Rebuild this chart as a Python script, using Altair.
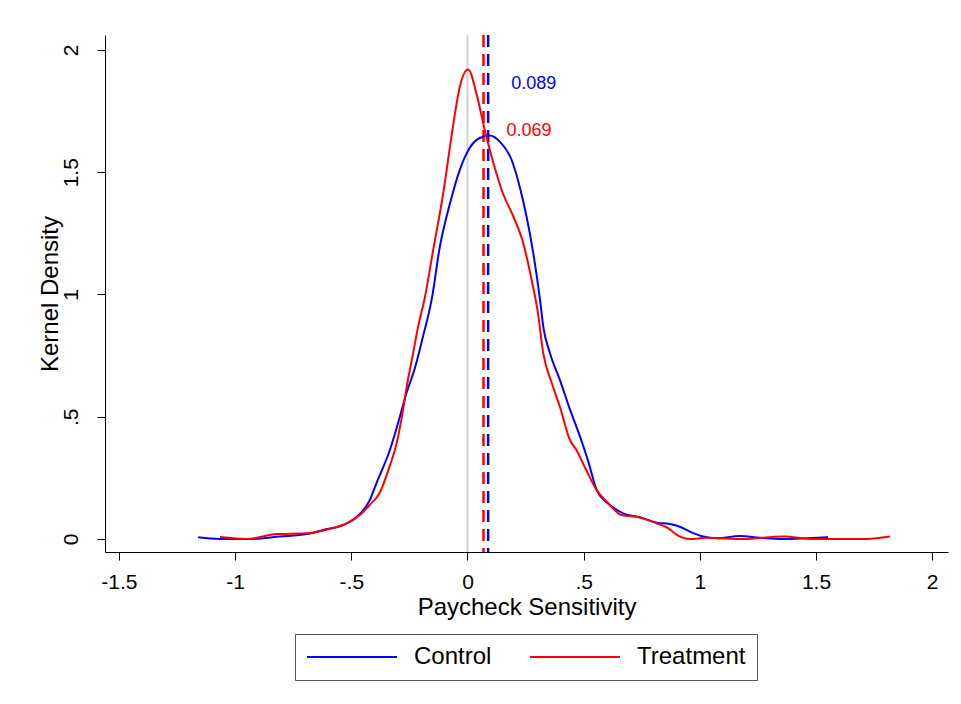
import altair as alt
import pandas as pd

# ---- data ----
ctrl_x = [-1.159, -1.065, -0.936, -0.807, -0.692, -0.621, -0.535, -0.477, -0.42, -0.391,
          -0.334, -0.291, -0.268, -0.226, -0.191, -0.154, -0.119, -0.076, -0.033, 0.01,
          0.053, 0.096, 0.139, 0.19, 0.225, 0.254, 0.283, 0.312, 0.326, 0.355, 0.398,
          0.441, 0.484, 0.519, 0.556, 0.599, 0.67, 0.742, 0.814, 0.871, 0.914, 0.957,
          1.014, 1.072, 1.172, 1.258, 1.358, 1.459, 1.552]
ctrl_y = [0.007, 0.0, 0.0, 0.01, 0.02, 0.037, 0.057, 0.09, 0.16, 0.23,
          0.364, 0.50, 0.58, 0.70, 0.83, 0.98, 1.195, 1.37, 1.51, 1.60,
          1.64, 1.65, 1.625, 1.55, 1.44, 1.32, 1.17, 0.98, 0.87, 0.76, 0.65,
          0.53, 0.42, 0.32, 0.20, 0.15, 0.105, 0.089, 0.067, 0.061, 0.05, 0.03,
          0.01, 0.003, 0.012, 0.005, 0.0, 0.003, 0.007]

treat_x = [-1.065, -0.95, -0.821, -0.692, -0.579, -0.52, -0.463, -0.42, -0.377, -0.334,
           -0.305, -0.277, -0.262, -0.234, -0.212, -0.183, -0.148, -0.105, -0.062, -0.033,
           0.003, 0.039, 0.075, 0.111, 0.154, 0.197, 0.24, 0.276, 0.304, 0.326, 0.362,
           0.398, 0.441, 0.469, 0.512, 0.556, 0.599, 0.663, 0.742, 0.814, 0.857, 0.914,
           0.957, 1.029, 1.186, 1.358, 1.488, 1.717, 1.818]
treat_y = [0.008, 0.0, 0.02, 0.023, 0.045, 0.064, 0.098, 0.14, 0.19, 0.30,
           0.39, 0.53, 0.62, 0.76, 0.87, 0.99, 1.18, 1.41, 1.69, 1.85,
           1.92, 1.82, 1.67, 1.54, 1.41, 1.32, 1.21, 1.06, 0.92, 0.76, 0.64,
           0.54, 0.405, 0.364, 0.28, 0.20, 0.153, 0.098, 0.088, 0.064, 0.048, 0.01,
           0.0, 0.005, 0.0, 0.01, 0.0, 0.0, 0.01]

groups = ["Control", "Treatment"]
colors = ["#0000ff", "#ff0000"]
means = [0.089, 0.069]
mean_labels = ["0.089", "0.069"]
label_y = [1.86, 1.67]
x_ticks = [-1.5, -1, -0.5, 0, 0.5, 1, 1.5, 2]
y_ticks = [0, 0.5, 1, 1.5, 2]

FONT = "Liberation Sans"

curves = pd.DataFrame({
    "x": ctrl_x + treat_x,
    "y": ctrl_y + treat_y,
    "group": ["Control"] * len(ctrl_x) + ["Treatment"] * len(treat_x),
})
means_df = pd.DataFrame({"group": groups, "mean": means, "label": mean_labels,
                         "ly": label_y, "color": colors})

xscale = alt.Scale(domain=[-1.56, 2.068], nice=False, zero=False)
yscale = alt.Scale(domain=[-0.0532, 2.0613], nice=False, zero=False)
label_expr = "replace(toString(datum.value), '0.', '.')"

zero_rule = alt.Chart(pd.DataFrame({"x": [0]})).mark_rule(
    color="#c8d4e0", strokeWidth=2
).encode(x=alt.X("x:Q", scale=xscale))

mean_rules = alt.Chart(means_df).mark_rule(strokeDash=[12, 7], strokeWidth=2.5).encode(
    x=alt.X("mean:Q", scale=xscale),
    color=alt.Color("color:N", scale=None),
)

mean_text = alt.Chart(means_df).mark_text(
    align="left", baseline="middle", dx=23, fontSize=18, font=FONT
).encode(
    x=alt.X("mean:Q", scale=xscale),
    y=alt.Y("ly:Q", scale=yscale),
    text="label:N",
    color=alt.Color("color:N", scale=None),
)

lines = alt.Chart(curves).mark_line(strokeWidth=2, interpolate="monotone").encode(
    x=alt.X("x:Q", scale=xscale, title="Paycheck Sensitivity",
            axis=alt.Axis(values=x_ticks, labelExpr=label_expr, grid=False,
                          labelPadding=11, titlePadding=3)),
    y=alt.Y("y:Q", scale=yscale, title="Kernel Density",
            axis=alt.Axis(values=y_ticks, labelExpr=label_expr, grid=False,
                          labelAngle=270, labelAlign="center", labelBaseline="bottom",
                          labelPadding=16, titleX=-55, titleBaseline="middle")),
    color=alt.Color("group:N", scale=alt.Scale(domain=groups, range=colors),
                    legend=alt.Legend(
                        title=None, orient="none", legendX=190, legendY=599,
                        direction="horizontal", symbolType="stroke", symbolSize=8100,
                        symbolStrokeWidth=2, clipHeight=24, labelFontSize=24,
                        labelFont=FONT, labelColor="black", labelOffset=16,
                        columnPadding=37, padding=11, strokeColor="#555555",
                        fillColor="white")),
    order=alt.Order("x:Q"),
)

chart = alt.layer(zero_rule, mean_rules, lines, mean_text).properties(
    width=843, height=517,
    autosize=alt.AutoSizeParams(type="none"),
    padding={"left": 105, "top": 35, "right": 13, "bottom": 152},
    background="white",
).configure_view(stroke=None).configure_axis(
    domainColor="black", tickColor="black", tickSize=8, domainWidth=1, tickWidth=1,
    labelColor="black", titleColor="black", labelFont=FONT, titleFont=FONT,
    labelFontSize=21, titleFontSize=24, titleFontWeight="normal",
)

chart.save("out.html", embed_options={"renderer": "svg", "actions": False})
